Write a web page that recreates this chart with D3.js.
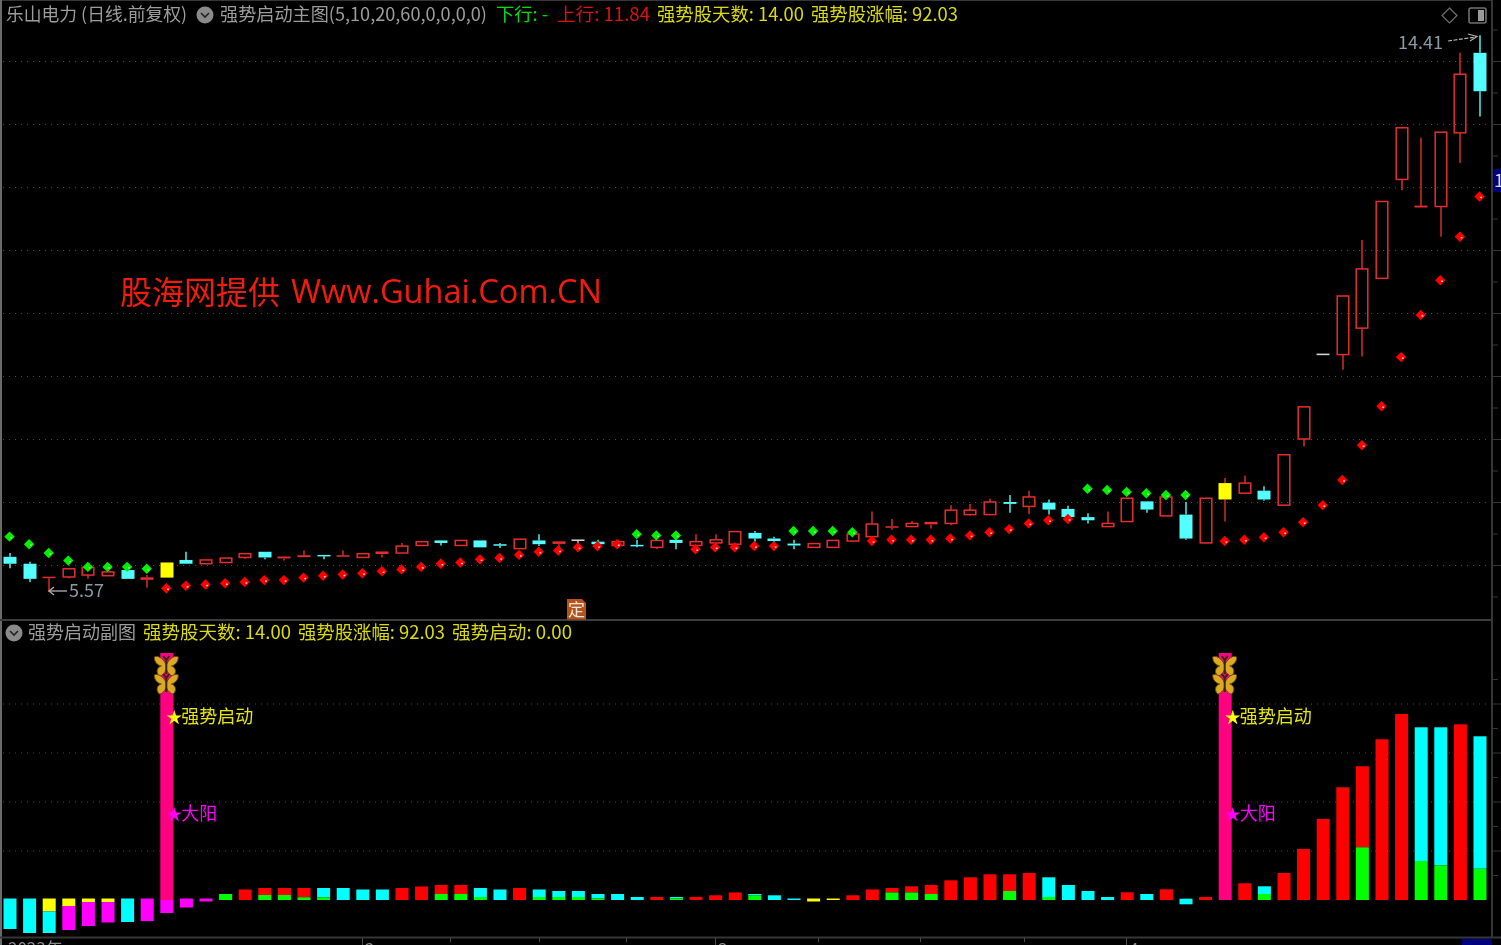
<!DOCTYPE html>
<html><head><meta charset="utf-8">
<style>html,body{margin:0;padding:0;background:#000;overflow:hidden}svg{display:block;filter:blur(.35px)}
text{font-family:"Noto Sans CJK SC","Noto Sans",sans-serif}</style>
<script src="https://cdnjs.cloudflare.com/ajax/libs/d3/7.8.5/d3.min.js"></script>
</head><body><svg id="c" width="1501" height="945"></svg>
<script>
// ---- main pane: price candles (index 0..75) ----
const opens=[6.13,6.02,5.79,5.81,5.84,5.83,5.92,5.76,5.80,6.08,6.02,6.04,6.12,6.21,6.10,6.12,6.16,6.13,6.12,6.17,6.19,6.31,6.39,6.31,6.39,6.33,6.26,6.39,6.33,6.39,6.37,6.31,6.32,6.28,6.40,6.31,6.35,6.33,6.51,6.42,6.34,6.28,6.28,6.38,6.45,6.59,6.61,6.64,6.66,6.80,6.80,7.00,6.93,6.99,6.89,6.76,6.61,6.69,7.01,6.78,6.80,6.35,7.04,7.14,7.18,6.95,8.00,9.34,9.34,9.76,10.55,12.12,11.67,11.69,12.86,14.13];
const closes=[6.02,5.78,5.81,5.94,5.96,5.89,5.78,5.80,6.04,6.02,6.08,6.11,6.18,6.12,6.13,6.15,6.14,6.15,6.18,6.21,6.30,6.37,6.35,6.39,6.28,6.31,6.41,6.33,6.37,6.39,6.33,6.37,6.30,6.39,6.35,6.37,6.40,6.53,6.42,6.38,6.31,6.34,6.39,6.49,6.65,6.61,6.66,6.68,6.87,6.87,7.00,6.97,7.08,6.88,6.76,6.71,6.66,7.06,6.88,7.08,6.42,7.06,7.30,7.30,7.04,7.75,8.51,9.34,10.27,10.70,11.77,12.94,11.70,12.87,13.79,13.52];
const highs=[6.19,6.05,5.81,5.94,5.96,5.89,5.92,5.84,6.04,6.21,6.08,6.11,6.18,6.21,6.13,6.23,6.16,6.23,6.18,6.21,6.35,6.37,6.39,6.39,6.39,6.35,6.41,6.49,6.37,6.39,6.40,6.40,6.40,6.39,6.48,6.49,6.49,6.53,6.54,6.45,6.40,6.34,6.39,6.49,6.85,6.73,6.70,6.68,6.95,6.97,7.05,7.11,7.18,7.04,6.94,6.82,6.85,7.06,7.01,7.08,7.00,7.06,7.38,7.42,7.25,7.75,8.51,9.34,10.27,11.16,11.77,12.94,12.78,12.87,14.13,14.41];
const lows=[5.95,5.73,5.57,5.79,5.78,5.83,5.78,5.64,5.80,6.02,6.02,6.04,6.10,6.09,6.07,6.12,6.09,6.13,6.12,6.12,6.19,6.31,6.31,6.31,6.28,6.27,6.26,6.30,6.24,6.34,6.33,6.27,6.28,6.25,6.25,6.21,6.24,6.27,6.37,6.27,6.25,6.28,6.28,6.38,6.42,6.56,6.61,6.58,6.63,6.78,6.80,6.83,6.81,6.80,6.76,6.66,6.61,6.69,6.83,6.78,6.40,6.35,6.69,7.14,7.02,6.95,7.88,9.34,9.10,9.31,10.55,11.95,11.67,11.21,12.38,13.12];
const startCandles=[8,62];
// ---- main pane: trailing dots ----
const greenDotIdx=[0,1,2,3,4,5,6,7,32,33,34,40,41,42,43,55,56,57,58,59,60];
const greenDotVal=[6.45,6.33,6.19,6.07,5.97,5.97,5.97,5.94,6.49,6.47,6.47,6.54,6.54,6.54,6.52,7.21,7.19,7.16,7.14,7.11,7.11];
const redDotIdx=[8,9,10,11,12,13,14,15,16,17,18,19,20,21,22,23,24,25,26,27,28,29,30,31,35,36,37,38,39,44,45,46,47,48,49,50,51,52,53,54,62,63,64,65,66,67,68,69,70,71,72,73,74,75];
const redDotVal=[5.63,5.67,5.69,5.71,5.73,5.76,5.76,5.80,5.83,5.85,5.87,5.90,5.93,5.97,6.02,6.04,6.09,6.11,6.16,6.21,6.23,6.28,6.30,6.33,6.25,6.28,6.28,6.30,6.30,6.38,6.40,6.40,6.40,6.42,6.47,6.52,6.57,6.66,6.71,6.73,6.38,6.40,6.44,6.52,6.68,6.95,7.35,7.90,8.52,9.30,9.97,10.52,11.21,11.85];
const priceTicks=[6,7,8,9,10,11,12,13,14];
// ---- lower pane ----
const subTop=[.3,.3,.3,.3,.3,.3,.3,.3,0,.3,.3,1.2,2.1,2.4,2.4,2.4,2.4,2.4,2.1,2.1,2.4,2.7,3,3,2.4,2.1,2.4,2.1,1.8,1.8,1.2,1.2,.6,.6,.6,.6,.94,1.5,1.2,.94,.3,.3,.3,.94,2.1,2.4,2.74,3,3.94,4.54,5.14,5.14,5.4,4.54,3,1.8,.6,1.54,1.2,2.14,.26,.6,0,3.34,2.74,5.4,10.2,16.2,22.54,26.74,32.14,37.2,34.54,34.54,35.14,32.74];
const subBottom=[-5.8,-6.6,-6.6,-6,-5.2,-4.5,-4.4,-4.2,-2.6,-1.5,-.3,0,0,0,0,0,0,0,0,0,0,0,0,0,0,0,0,0,0,0,0,0,0,0,0,0,0,0,0,0,0,-.3,0,0,0,0,0,0,0,0,0,0,0,0,0,0,0,0,0,0,-.86,0,0,0,0,0,0,0,0,0,0,0,0,0,0,0];
const subSplit=[null,null,-2.3,-1.2,-.4,-.4,null,null,null,null,null,null,null,1,1,.54,.54,null,null,null,null,null,1.2,1.2,.6,null,null,.6,.6,.6,.3,null,null,null,.3,null,null,null,.94,null,null,null,null,null,null,1.5,1.5,1.2,null,null,null,1.8,null,.6,null,null,null,null,null,null,null,null,null,null,1.2,null,null,null,null,10.54,null,null,7.8,6.94,null,6.26];
const subUpper=("ccyyyycmmmmg"+"rrrr"+"cccc"+"rrrr"+"cc"+"r"+"cccccc"+"r"+"c"+"rrr"+"ccc"+"yy"+"rrrrrrrrrr"+"cccc"+"r"+"c"+"r"+"c"+"r"+"m"+"r"+"c"+"rrrrrrr"+"cc"+"r"+"c").split("");
const subLower=("cccmmm"+"gggggggggggggggggggggggggggggggggggggggggggggggggggggggggggggggggggggg").split("");
const pinkIdx=[8,62], pinkTop=[49.4,49.4];
const subGrid=[9.8,19.6,29.4,39.2];
const subSubTicks=[4.9,14.7,24.5,34.3];
const dateTicks=[362,450,539,626,715,818,920,1024,1126];
const dateMajor=[362,715,1126];
const dateLabels=["2","3","4"];

const palette={c:"#00ffff",m:"#ff00ff",y:"#ffff00",r:"#ff0000",g:"#00ff00"};
const svg=d3.select("#c");
const x=d3.scaleLinear().domain([0,75]).range([10,1480]);
const y=d3.scaleLinear().domain([6,14]).range([565,61]);
const s=d3.scaleLinear().domain([0,50]).range([900,650]);

function txt(xp,yp,t,col,size,len){const e=svg.append("text").attr("x",xp).attr("y",yp).attr("fill",col).attr("font-size",size).text(t);
  if(len)e.attr("textLength",len).attr("lengthAdjust","spacingAndGlyphs");return e;}

// frames
const fr="#363636";
function ln(a,b,c,d,col,w){svg.append("line").attr("x1",a).attr("y1",b).attr("x2",c).attr("y2",d).attr("stroke",col).attr("stroke-width",w||1);}
// grids
svg.append("g").selectAll("line").data(priceTicks).join("line").attr("x1",3).attr("x2",1491).attr("y1",d=>y(d)+.5).attr("y2",d=>y(d)+.5)
 .attr("stroke","#4a4a4a").attr("stroke-dasharray","1 5");
svg.append("g").selectAll("line").data(subGrid).join("line").attr("x1",3).attr("x2",1491).attr("y1",d=>s(d)).attr("y2",d=>s(d))
 .attr("stroke","#4a4a4a").attr("stroke-dasharray","1 5");
ln(0,.5,1492,.5,fr,1);ln(1,0,1,945,"#6a6a6a",2);ln(0,620,1492,620,"#3c3c3c",2);ln(0,937.5,1501,937.5,fr,2);ln(1492,0,1492,938,fr,2);
// right ticks
priceTicks.forEach(d=>{ln(1492,y(d)+.5,1501,y(d)+.5,fr,1);ln(1492,y(d+.5)+.5,1498,y(d+.5)+.5,fr,1);});
ln(1492,y(5.5)+.5,1498,y(5.5)+.5,fr,1);
subGrid.forEach(d=>ln(1492,s(d),1501,s(d),fr,1));
subSubTicks.forEach(d=>ln(1492,s(d),1498,s(d),fr,1));ln(1492,s(44.1),1498,s(44.1),fr,1);
// bottom ticks
dateTicks.forEach(d=>ln(d+.5,938,d+.5,dateMajor.includes(d)?945:942,"#4a4a4a",1));
svg.append("rect").attr("x",1462).attr("y",939).attr("width",30).attr("height",6).attr("fill","#00007f");
svg.append("rect").attr("x",1493).attr("y",169).attr("width",8).attr("height",23).attr("fill","#00007f");
txt(1494,187,"11.84","#d8d8d8",18);
txt(8,955,"2023年","#8a8a8a",17);
dateLabels.forEach((l,i)=>txt(dateMajor[i]+3,955,l,"#8a8a8a",17));

// candles
const cyan="#54ffff",red="#e62e2e",white="#d0d0d0";
const idx=d3.range(opens.length);
const cg=svg.append("g");
function colorOf(i){if(opens[i]===closes[i])return white;return closes[i]>opens[i]?red:cyan;}
idx.forEach(i=>{const col=startCandles.includes(i)?red:colorOf(i),up=Math.max(opens[i],closes[i]),dn=Math.min(opens[i],closes[i]),cx=Math.round(x(i));
  const w=cg.append("g").attr("stroke",colorOf(i)===cyan?cyan:col).attr("stroke-width",1.4);
  if(highs[i]>up)w.append("line").attr("x1",cx).attr("x2",cx).attr("y1",y(highs[i])).attr("y2",y(up));
  if(lows[i]<dn)w.append("line").attr("x1",cx).attr("x2",cx).attr("y1",y(dn)).attr("y2",y(lows[i]));
  const h=y(dn)-y(up);
  if(startCandles.includes(i)){cg.append("rect").attr("x",cx-6.5).attr("y",y(up)).attr("width",13).attr("height",h).attr("fill","#ffff00");}
  else if(opens[i]===closes[i]){cg.append("rect").attr("x",cx-6.5).attr("y",y(up)-1).attr("width",13).attr("height",1.6).attr("fill",white);}
  else if(col===cyan){cg.append("rect").attr("x",cx-6.5).attr("y",y(up)).attr("width",13).attr("height",Math.max(h,1.5)).attr("fill",cyan);}
  else if(h<3){cg.append("rect").attr("x",cx-6.5).attr("y",y(up)-.3).attr("width",13).attr("height",Math.max(h,1.5)).attr("fill",red);}
  else{cg.append("rect").attr("x",cx-5.8).attr("y",y(up)).attr("width",11.6).attr("height",h).attr("fill","none").attr("stroke",red).attr("stroke-width",1.5);}
});
// dots
const sym=d3.symbol().type(d3.symbolSquare);
function dots(ix,val,col,hi,size){const g=svg.append("g");ix.forEach((k,j)=>{const px=x(k)-.5,py=y(val[j]);
  g.append("path").attr("d",sym.size(size)()).attr("transform",`translate(${px},${py}) rotate(45)`).attr("fill",col);
  g.append("rect").attr("x",px+.8).attr("y",py+.3).attr("width",1.8).attr("height",1.4).attr("fill",hi);});}
dots(greenDotIdx,greenDotVal,"#00f000","#a8ffa8",54);
dots(redDotIdx,redDotVal,"#ff0000","#ffd8d8",54);

// extreme labels
txt(69,597,"5.57","#8c9aa6",18);
ln(49,591,67,591,"#b0b0b0",1.3);svg.append("path").attr("d","M54,587 L49,591 L54,595").attr("fill","none").attr("stroke","#b0b0b0").attr("stroke-width",1.3);
txt(1398,49,"14.41","#8c9aa6",18);
svg.append("path").attr("d","M1448,41 L1476,37").attr("fill","none").attr("stroke","#b0b0b0").attr("stroke-width",1.2).attr("stroke-dasharray","4 1.5");
svg.append("path").attr("d","M1468,34 L1477,36.5 L1470,41").attr("fill","none").attr("stroke","#b0b0b0").attr("stroke-width",1.2);

// watermark
txt(120,304,"股海网提供","#f01c10",32,160);
txt(291,303,"Www.Guhai.Com.CN","#f01c10",32,311).style("font-family","'Open Sans','Noto Sans',sans-serif");

// 定 tag
svg.append("path").attr("d","M567,599 L582,599 L586,603 L586,619.5 L567,619.5 Z").attr("fill","#b4521c");
txt(568,616,"定","#f4e4d8",17);

// lower pane bars
const bw=13,bg=svg.append("g");
pinkIdx.forEach((k,j)=>bg.append("rect").attr("x",x(k)-6.5).attr("width",bw).attr("y",s(pinkTop[j])).attr("height",s(0)-s(pinkTop[j])).attr("fill","#ff0080"));
subTop.forEach((t,i)=>{const b=subBottom[i],sp=subSplit[i],cx=x(i);
  if(t===b)return;
  if(sp===null){bg.append("rect").attr("x",cx-6.5).attr("width",bw).attr("y",s(t)).attr("height",s(b)-s(t)).attr("fill",palette[subUpper[i]]);}
  else{bg.append("rect").attr("x",cx-6.5).attr("width",bw).attr("y",s(t)).attr("height",s(sp)-s(t)).attr("fill",palette[subUpper[i]]);
       bg.append("rect").attr("x",cx-6.5).attr("width",bw).attr("y",s(sp)).attr("height",s(b)-s(sp)).attr("fill",palette[subLower[i]]);}
});
// butterflies + labels on start days
function butterfly(cx,cy){const g=svg.append("g").attr("transform",`translate(${cx},${cy})`);
  const wing="M0,-1 C-3,-8 -9,-11 -12,-9 C-12,-4 -9,-1 -5,0 C-9,1 -11,6 -7,10 C-4,10 -1,6 0,3 C1,6 4,10 7,10 C11,6 9,1 5,0 C9,-1 12,-4 12,-9 C9,-11 3,-8 0,-1 Z";
  g.append("path").attr("d",wing).attr("fill","#dcaa22").attr("stroke","#6a4a18").attr("stroke-width",1);
  g.append("path").attr("d","M0,-7 L0,8 M-3,-10 L0,-6 L3,-10").attr("fill","none").attr("stroke","#3a2410").attr("stroke-width",2);}
pinkIdx.forEach(k=>{const cx=x(k);
  butterfly(cx-.5,s(46.8));butterfly(cx-.5,s(43.2));
  txt(cx-.5,s(35.5),"★","#ffff00",16);
  txt(cx+14.5,s(35.5),"强势启动","#e6e600",18);
  txt(cx-.5,s(16),"★","#ff00ff",16);
  txt(cx+14.5,s(16),"大阳","#ff00ff",18);
});

// header
const g="#9c9c9c";
txt(6,21,"乐山电力 (日线.前复权)",g,18,181);
txt(220,21,"强势启动主图(5,10,20,60,0,0,0,0)",g,18,267);
txt(496,21,"下行: -","#00e000",18,52);
txt(557,21,"上行: 11.84","#e01010",18,93);
txt(657,21,"强势股天数: 14.00","#dcdc00",18,147);
txt(811,21,"强势股涨幅: 92.03","#dcdc00",18,147);
txt(28,639,"强势启动副图",g,18,108);
txt(143,639,"强势股天数: 14.00","#dcdc00",18,148);
txt(298,639,"强势股涨幅: 92.03","#dcdc00",18,147);
txt(452,639,"强势启动: 0.00","#dcdc00",18,120);
// icons
[[205,15],[14,633]].forEach(p=>{svg.append("circle").attr("cx",p[0]).attr("cy",p[1]).attr("r",8.5).attr("fill","#8a8a8a");
  svg.append("path").attr("d",`M${p[0]-4},${p[1]-2} L${p[0]},${p[1]+2} L${p[0]+4},${p[1]-2}`).attr("fill","none").attr("stroke","#222").attr("stroke-width",1.6);});
svg.append("path").attr("d","M1449.5,8 L1457,15.5 L1449.5,23 L1442,15.5 Z").attr("fill","none").attr("stroke","#707070").attr("stroke-width",1.2);
svg.append("rect").attr("x",1469).attr("y",8).attr("width",17).attr("height",15).attr("rx",2).attr("fill","none").attr("stroke","#707070").attr("stroke-width",1.6);
svg.append("rect").attr("x",1478).attr("y",10).attr("width",6).attr("height",11).attr("fill","#9a9a9a");
</script></body></html>
